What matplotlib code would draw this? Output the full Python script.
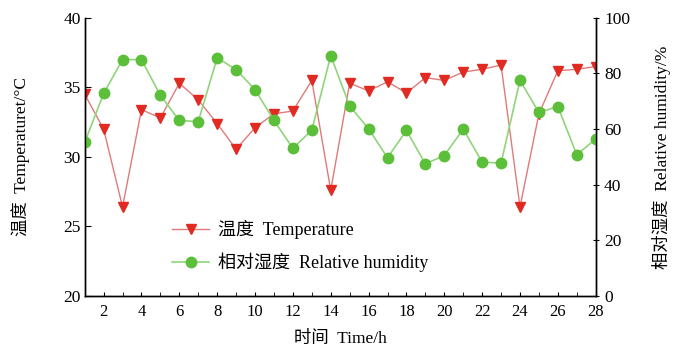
import numpy as np
import matplotlib
matplotlib.use("Agg")
from matplotlib import pyplot as plt
from matplotlib.ticker import MultipleLocator

FONTS = ["Liberation Serif", "Noto Sans CJK SC", "DejaVu Sans"]
plt.rcParams["font.family"] = FONTS

# Data
#----------------------------------------------------
hours = np.arange(1, 29)
temperature = [34.5, 32.0, 26.4, 33.4, 32.8, 35.3, 34.1, 32.4, 30.55, 32.1,
               33.1, 33.3, 35.5, 27.6, 35.3, 34.75, 35.4, 34.6, 35.7, 35.5,
               36.1, 36.3, 36.6, 26.4, 33.1, 36.2, 36.3, 36.5]
humidity = [55.2, 72.8, 85.0, 85.0, 72.1, 63.1, 62.7, 85.6, 81.4, 74.2,
            63.1, 53.1, 59.6, 86.4, 68.3, 60.1, 49.7, 59.5, 47.5, 50.5,
            60.0, 48.1, 47.8, 77.5, 66.0, 68.1, 50.8, 56.4]
xticks = list(range(2, 29, 2))

# Plot
#----------------------------------------------------
fig = plt.figure(figsize=(7, 3.57), dpi=100)
ax = fig.add_axes([0.121, 0.171, 0.730, 0.779])
ax2 = ax.twinx()

l1, = ax.plot(hours, temperature, "-", color="#e07a7a", linewidth=1.0,
              marker="v", markersize=7, markerfacecolor="#e02a22",
              markeredgecolor="#e02a22", label="温度  Temperature")
l2, = ax2.plot(hours, humidity, "-", color="#8fd57a", linewidth=1.2,
               marker="o", markersize=7.5, markerfacecolor="#5cbf3a",
               markeredgecolor="#5cbf3a", label="相对湿度  Relative humidity")

ax.set_xlim(1, 28)
ax.set_ylim(20, 40)
ax2.set_ylim(0, 100)
ax.set_xticks(xticks)
ax.xaxis.set_minor_locator(MultipleLocator(1))
ax.yaxis.set_major_locator(MultipleLocator(5))
ax2.yaxis.set_major_locator(MultipleLocator(20))

for a in (ax, ax2):
    a.spines["top"].set_visible(False)
    for s in a.spines.values():
        s.set_linewidth(1.0)
ax.tick_params(axis="both", which="both", direction="in", labelsize=12.5)
ax.tick_params(axis="x", which="both", length=3, pad=6, labelsize=12)
ax.tick_params(axis="y", length=4, pad=3)
ax2.tick_params(axis="y", direction="inout", length=4, labelsize=12.5, pad=4)

ax.set_xlabel("时间  Time/h", fontsize=12.5, labelpad=8)
ax.set_ylabel("温度  Temperaturet/°C", fontsize=12.5, labelpad=24)
ax2.set_ylabel("相对湿度  Relative humidity/%", fontsize=12.5, labelpad=16)

ax2.legend(handles=[l1, l2], loc="upper left", bbox_to_anchor=(0.14, 0.33),
           frameon=False, fontsize=13, handlelength=2.0, handletextpad=0.5,
           labelspacing=0.75)

fig.savefig("out.png", dpi=100)
